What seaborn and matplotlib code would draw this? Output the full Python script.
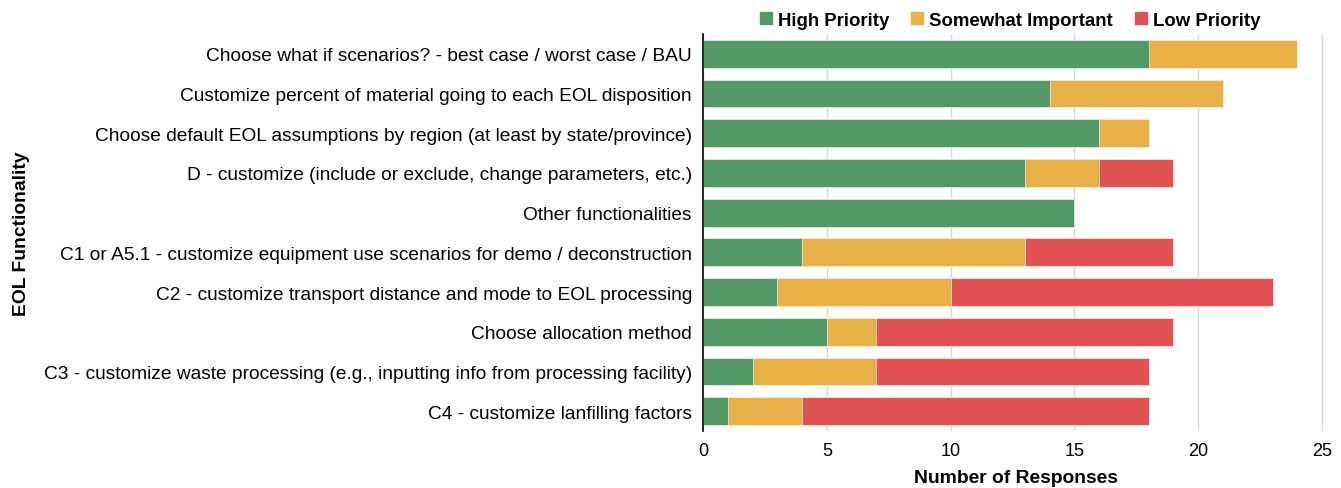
import pandas as pd
import matplotlib.pyplot as plt
import matplotlib.patches as mpatches
import seaborn as sns

functionality = [
    'Choose what if scenarios? - best case / worst case / BAU',
    'Customize percent of material going to each EOL disposition',
    'Choose default EOL assumptions by region (at least by state/province)',
    'D - customize (include or exclude, change parameters, etc.)',
    'Other functionalities',
    'C1 or A5.1 - customize equipment use scenarios for demo / deconstruction',
    'C2 - customize transport distance and mode to EOL processing',
    'Choose allocation method',
    'C3 - customize waste processing (e.g., inputting info from processing facility)',
    'C4 - customize lanfilling factors',
]
high_priority = [18, 14, 16, 13, 15, 4, 3, 5, 2, 1]
somewhat_important = [6, 7, 2, 3, 0, 9, 7, 2, 5, 3]
low_priority = [0, 0, 0, 3, 0, 6, 13, 12, 11, 14]

series_names = ['High Priority', 'Somewhat Important', 'Low Priority']
colors = {'High Priority': '#529966', 'Somewhat Important': '#e9b046', 'Low Priority': '#e15252'}

df = pd.DataFrame({
    'functionality': functionality,
    'High Priority': high_priority,
    'Somewhat Important': somewhat_important,
    'Low Priority': low_priority,
})
# cumulative ends for stacking
df['cum_high'] = df['High Priority']
df['cum_some'] = df['cum_high'] + df['Somewhat Important']
df['cum_low'] = df['cum_some'] + df['Low Priority']

sns.set_style('white')
plt.rcParams['font.family'] = ['Liberation Sans', 'DejaVu Sans']
plt.rcParams['font.size'] = 12
plt.rcParams['text.color'] = 'black'
plt.rcParams['axes.labelcolor'] = 'black'
plt.rcParams['xtick.color'] = 'black'
plt.rcParams['ytick.color'] = 'black'

fig = plt.figure(figsize=(13.41, 4.89), dpi=100)
ax = fig.add_axes([0.5243, 0.1166, 0.4671, 0.8118])

for col, name in [('cum_low', 'Low Priority'), ('cum_some', 'Somewhat Important'), ('cum_high', 'High Priority')]:
    sns.barplot(data=df, x=col, y='functionality', orient='h', color=colors[name],
                width=0.7, saturation=1, ax=ax, zorder=3, linewidth=0.5, edgecolor='#f4f4f4')

ax.set_xlim(0, 25.3)
ax.set_ylim(9.5, -0.5)
ax.set_xticks([0, 5, 10, 15, 20, 25])
ax.grid(axis='x', color='#d9d9d9', linewidth=1, zorder=0)
ax.set_axisbelow(True)
for side in ['top', 'right', 'bottom']:
    ax.spines[side].set_visible(False)
ax.spines['left'].set_color('black')
ax.spines['left'].set_linewidth(1.2)
ax.spines['left'].set_zorder(5)
ax.tick_params(axis='y', length=0, labelsize=13.8, pad=8)
ax.tick_params(axis='x', length=0, labelsize=13, pad=8)

ax.set_xlabel('Number of Responses', fontsize=13.9, fontweight='bold', labelpad=7)
ax.set_ylabel('EOL Functionality', fontsize=13.9, fontweight='bold')
ax.yaxis.set_label_coords(-1.075, 0.5)

handles = [mpatches.Patch(color=colors[n], label=n) for n in series_names]
ax.legend(handles=handles, loc='lower center', bbox_to_anchor=(0.49, 0.995), ncol=3,
          frameon=False, handlelength=0.65, handleheight=0.65, handletextpad=0.3,
          columnspacing=1.2, prop={'weight': 'bold', 'size': 13.4}, borderaxespad=0)

fig.savefig('out.png', dpi=100)
